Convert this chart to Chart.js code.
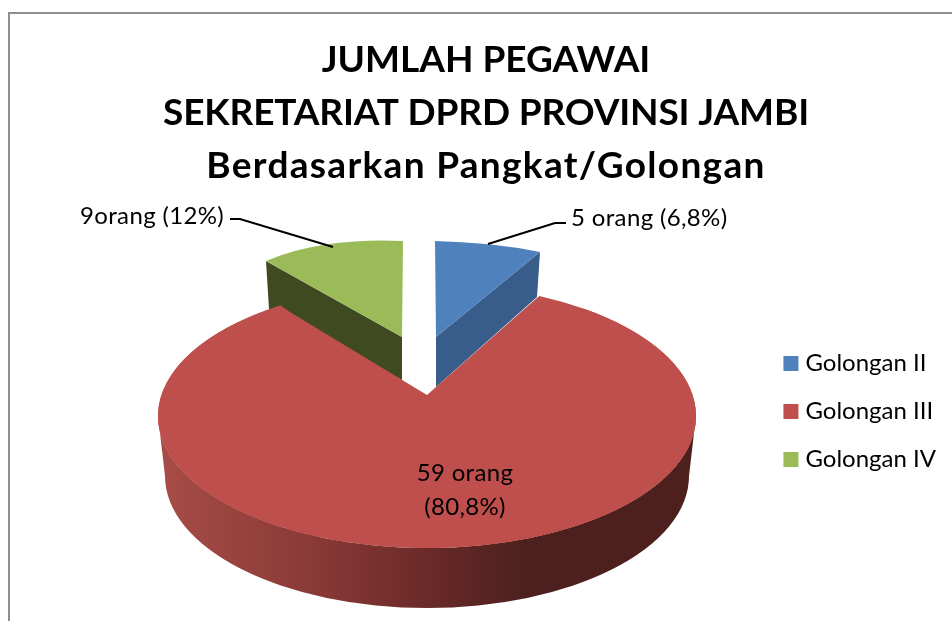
<!DOCTYPE html>
<html>
<head>
<meta charset="utf-8">
<style>
    html, body { margin: 0; padding: 0; background: #fff; overflow: hidden; }
    canvas { display: block; }
</style>
<script src="https://cdn.jsdelivr.net/npm/chart.js@4"></script>
</head>
<body>
<canvas id="pie" width="952" height="621"></canvas>
<script>
    // --- Data ---
    const categories = ['Golongan II', 'Golongan III', 'Golongan IV'];
    const values = [5, 59, 9];
    const colors = ['#4F81BD', '#BE4F4C', '#9BBB59'];
    const titleLines = ['JUMLAH PEGAWAI', 'SEKRETARIAT DPRD PROVINSI JAMBI', 'Berdasarkan Pangkat/Golongan'];
    const sliceLabels = [['5 orang (6,8%)'], ['59 orang', '(80,8%)'], ['9orang (12%)']];

    // --- 3D look: where each slice lands on screen ---
    const RED = { cx: 427, cy: 416, rx: 269, ry: 132, tip: [427, 395], rimR: [538, 297], rimL: [280, 306] };
    const RED_BOTTOM = { cy: 476, rx: 262, ry: 132 };
    const BLUE = { tip: [436, 337], a: [435, 241], b: [540, 252], wall: [[540, 252], [537, 297], [436, 387], [436, 337]], wallColor: '#385D8A' };
    const GREEN = { tip: [402, 337], a: [266, 261], b: [403, 241], wall: [[266, 261], [269, 309], [402, 380], [402, 337]], wallColor: '#3F4A20' };

    function polygon(ctx, pts, color) {
        ctx.beginPath();
        pts.forEach((p, i) => i ? ctx.lineTo(p[0], p[1]) : ctx.moveTo(p[0], p[1]));
        ctx.closePath();
        ctx.fillStyle = color;
        ctx.fill();
    }

    // maps the slice's centre and two rim ends onto three screen points
    function drawWedge(ctx, arc, spec) {
        const r = arc.outerRadius;
        const ax = Math.cos(arc.startAngle), ay = Math.sin(arc.startAngle);
        const bx = Math.cos(arc.endAngle), by = Math.sin(arc.endAngle);
        const det = r * (ax * by - ay * bx);
        const ux = spec.a[0] - spec.tip[0], uy = spec.a[1] - spec.tip[1];
        const vx = spec.b[0] - spec.tip[0], vy = spec.b[1] - spec.tip[1];
        const m11 = (ux * by - vx * ay) / det, m12 = (vx * ax - ux * bx) / det;
        const m21 = (uy * by - vy * ay) / det, m22 = (vy * ax - uy * bx) / det;
        ctx.save();
        ctx.transform(m11, m21, m12, m22, spec.tip[0] - m11 * arc.x - m12 * arc.y, spec.tip[1] - m21 * arc.x - m22 * arc.y);
        arc.draw(ctx);
        ctx.restore();
    }

    function drawBigSlice(ctx, arc, turn) {
        ctx.save();
        ctx.translate(RED.cx, RED.cy);
        ctx.scale(RED.rx / arc.outerRadius, RED.ry / arc.outerRadius);
        ctx.rotate(turn);
        ctx.translate(-arc.x, -arc.y);
        arc.draw(ctx);
        ctx.restore();
    }

    function drawBigWall(ctx) {
        const grad = ctx.createLinearGradient(158, 0, 696, 0);
        grad.addColorStop(0, '#A84C47');
        grad.addColorStop(0.27, '#8C3B38');
        grad.addColorStop(0.5, '#6A2A28');
        grad.addColorStop(0.68, '#4D201E');
        grad.addColorStop(1, '#4D201E');
        ctx.beginPath();
        ctx.ellipse(RED.cx, RED.cy, RED.rx, RED.ry, 0, 0, Math.PI);
        ctx.ellipse(RED.cx, RED_BOTTOM.cy, RED_BOTTOM.rx, RED_BOTTOM.ry, 0, Math.PI, 0, true);
        ctx.closePath();
        ctx.fillStyle = grad;
        ctx.fill();
    }

    function spacedText(ctx, text, x, y, spacing) {
        ctx.letterSpacing = spacing + 'px';
        ctx.fillText(text, x, y);
    }

    const pie3d = {
        id: 'pie3d',
        beforeDatasetDraw(chart) {
            const ctx = chart.ctx;
            const [blue, red, green] = chart.getDatasetMeta(0).data;
            polygon(ctx, BLUE.wall, BLUE.wallColor);
            drawWedge(ctx, blue, BLUE);
            polygon(ctx, GREEN.wall, GREEN.wallColor);
            drawWedge(ctx, green, GREEN);
            drawBigWall(ctx);
            drawBigSlice(ctx, red, 0);
            // perspective in the original pulls the notch up and narrows it
            drawBigSlice(ctx, red, 11.4 * Math.PI / 180);
            polygon(ctx, [RED.tip, RED.rimR, [RED.cx, RED.cy + 30], RED.rimL], colors[1]);
            return false;
        },
        afterDraw(chart) {
            const ctx = chart.ctx;
            ctx.save();
            // frame, open on the right like the original
            ctx.strokeStyle = '#8E8E8E';
            ctx.lineWidth = 2;
            ctx.beginPath();
            ctx.moveTo(9, 621);
            ctx.lineTo(9, 13);
            ctx.lineTo(952, 13);
            ctx.stroke();
            // leader lines
            ctx.strokeStyle = '#000';
            ctx.beginPath();
            ctx.moveTo(566, 223);
            ctx.lineTo(555, 223);
            ctx.lineTo(488, 244);
            ctx.moveTo(230, 219);
            ctx.lineTo(240, 219);
            ctx.lineTo(333, 247);
            ctx.stroke();
            ctx.fillStyle = '#000';
            ctx.textBaseline = 'middle';
            // title
            ctx.textAlign = 'center';
            ctx.font = 'bold 37px Lato';
            spacedText(ctx, titleLines[0], 486, 60, 0);
            spacedText(ctx, titleLines[1], 486, 113, -0.15);
            spacedText(ctx, titleLines[2], 486, 166, 1.3);
            // slice labels
            ctx.font = '24px Lato';
            spacedText(ctx, sliceLabels[1][0], 465, 473, 0.35);
            spacedText(ctx, sliceLabels[1][1], 465, 507, 0.35);
            ctx.textAlign = 'left';
            spacedText(ctx, sliceLabels[0][0], 571, 218, 0.35);
            spacedText(ctx, sliceLabels[2][0], 80, 216, 0.35);
            ctx.restore();
        }
    };

    new Chart(document.getElementById('pie'), {
        type: 'pie',
        data: {
            labels: categories,
            datasets: [{ data: values, backgroundColor: colors, borderWidth: 0 }]
        },
        options: {
            responsive: false,
            animation: false,
            layout: { padding: { left: 0, right: 6, top: 202, bottom: 0 } },
            plugins: {
                title: { display: false },
                legend: {
                    position: 'right',
                    labels: {
                        color: '#000',
                        font: { family: 'Lato', size: 24 },
                        usePointStyle: true,
                        pointStyle: 'rect',
                        boxWidth: 5,
                        boxHeight: 15,
                        padding: 24
                    }
                },
                tooltip: { enabled: false }
            }
        },
        plugins: [pie3d]
    });
</script>
</body>
</html>
